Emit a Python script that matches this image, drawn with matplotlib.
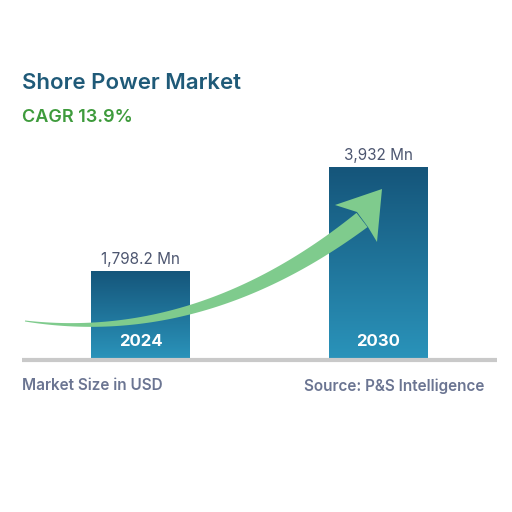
import numpy as np
import matplotlib
matplotlib.use("Agg")
import matplotlib.pyplot as plt
from matplotlib.colors import LinearSegmentedColormap
from matplotlib.patches import Polygon

# data
years = ["2024", "2030"]
values = [1798.2, 3932]
value_labels = ["1,798.2 Mn", "3,932 Mn"]
title = "Shore Power Market"
cagr = "CAGR 13.9%"
left_note = "Market Size in USD"
right_note = "Source: P&S Intelligence"

plt.rcParams['font.family'] = ['Inter', 'DejaVu Sans']

W = 512
fig = plt.figure(figsize=(5.12, 5.12), dpi=100)
fig.patch.set_facecolor("white")

# bar axes: pixel box x 22..497, y 100..358 (from top)
ax = fig.add_axes([22 / W, (W - 358) / W, 475 / W, 258 / W])
ax.axis("off")

cmap = LinearSegmentedColormap.from_list("bar", ["#2a93ba", "#15557a"])
grad = np.linspace(0, 1, 256).reshape(-1, 1)
bw = 0.416
bars = ax.bar(range(len(years)), values, width=bw, color="none")
for i, b in enumerate(bars):
    im = ax.imshow(grad, cmap=cmap, origin="lower", aspect="auto",
                   extent=[i - bw / 2, i + bw / 2, 0, values[i]], zorder=2)
    im.set_clip_path(b)
    ax.text(i, values[i] + 235, value_labels[i], ha="center", va="center",
            fontsize=11, color="#4d5670")
    ax.text(i, 330, years[i], ha="center", va="center", fontsize=12,
            fontweight="bold", color="white", zorder=3)
ax.set_xlim(-0.5, 1.5)
ax.set_ylim(0, 3932 * 258 / 191)

# overlay in pixel coordinates for the decorative arrow and baseline
ov = fig.add_axes([0, 0, 1, 1])
ov.set_xlim(0, W)
ov.set_ylim(W, 0)
ov.axis("off")
ov.set_zorder(5)
ov.patch.set_alpha(0)

ov.plot([22, 497], [360, 360], color="#c9c9c9", lw=3, solid_capstyle="butt")

# growth arrow (decoration)
p0, p1, p2 = np.array([25, 321]), np.array([200, 345]), np.array([362, 220])
t = np.linspace(0, 1, 100)[:, None]
pts = (1 - t) ** 2 * p0 + 2 * t * (1 - t) * p1 + t ** 2 * p2
d = 2 * (1 - t) * (p1 - p0) + 2 * t * (p2 - p1)
nrm = np.column_stack([-d[:, 1], d[:, 0]]) / np.linalg.norm(d, axis=1)[:, None]
w = (1 + 17 * t) / 2
shaft = np.vstack([pts + nrm * w, (pts - nrm * w)[::-1]])
ov.add_patch(Polygon(shaft, closed=True, color="#7fcb8d", lw=0))
head = [(382, 189), (377, 242), (368, 227), (357, 212), (335, 205)]
ov.add_patch(Polygon(head, closed=True, color="#7fcb8d", lw=0))

fig.text(22 / W, 1 - 83 / W, title, fontsize=16, fontweight="semibold",
         color="#1f5a78", va="center")
fig.text(22 / W, 1 - 118 / W, cagr, fontsize=13, fontweight="semibold",
         color="#3e9b3c", va="center")
fig.text(22 / W, 1 - 386 / W, left_note, fontsize=11, fontweight="semibold",
         color="#6b7592", va="center")
fig.text(484 / W, 1 - 386 / W, right_note, fontsize=11, fontweight="semibold",
         color="#6b7592", va="center", ha="right")

fig.savefig("out.png", dpi=100)
